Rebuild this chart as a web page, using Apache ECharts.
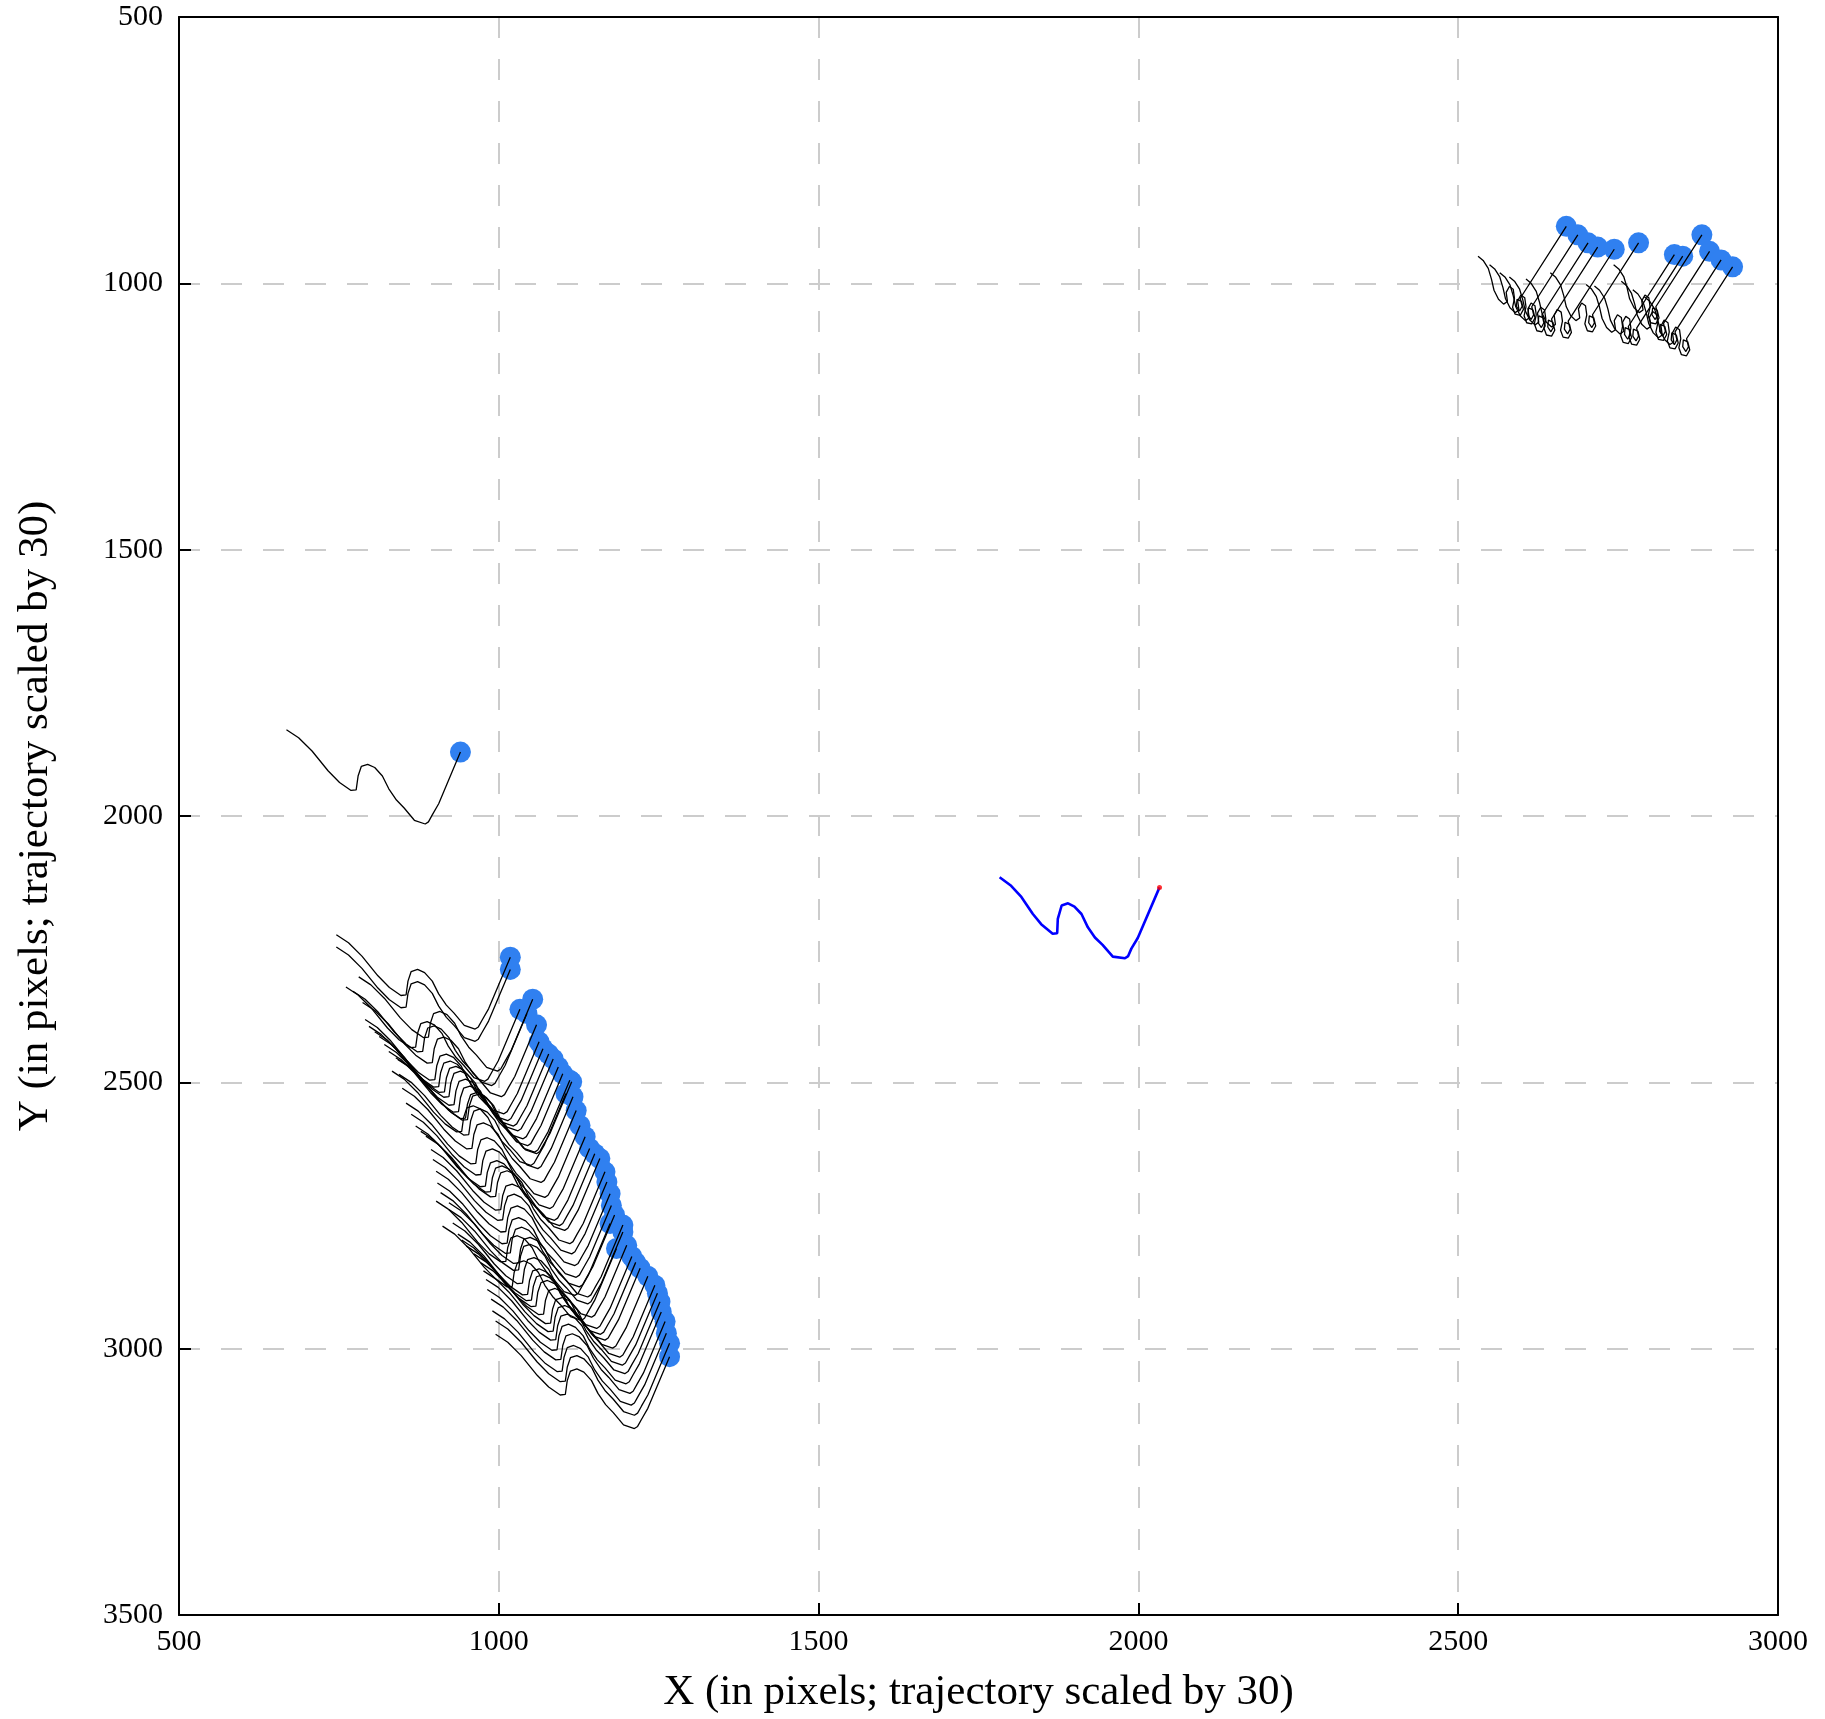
<!DOCTYPE html>
<html><head><meta charset="utf-8">
<script src="https://cdn.jsdelivr.net/npm/echarts@6/dist/echarts.min.js"></script>
<style>html,body{margin:0;padding:0;background:#fff}#c{width:1825px;height:1719px}</style>
</head><body><div id="c"></div>
<script>
// Axis ticks
const xTicks = [500, 1000, 1500, 2000, 2500, 3000];
const yTicks = [500, 1000, 1500, 2000, 2500, 3000, 3500];

// Highlighted (blue) trajectory
const blueX = [1783,1801,1817,1835,1848,1866,1873,1874,1880,1890,1900,1911,1921,1932,1944,1960,1979,1984,1989,1999,2033];
const blueY = [2115,2131,2152,2184,2203,2221,2220,2193,2168,2164,2170,2184,2209,2228,2242,2264,2267,2263,2249,2229,2134];

// Shape of the black trajectories (offsets from their end point), lower-left group
const shapeA_dx = [-272,-253,-232,-207,-189,-171,-163,-160,-155,-145,-134,-122,-112,-100,-88,-72,-55,-50,-44,-34,0];
const shapeA_dy = [-42,-27,-2,35,57,72,71,45,27,23,29,45,69,90,105,128,135,131,118,97,0];

// Shape of the black trajectories, upper-right group
const shapeB_dx = [-138,-130,-122,-117,-113,-106,-98,-92,-94,-89,-83,-81,-84,-80,-72,-67,-70,-77,-78,-73,-69,-72,0];
const shapeB_dy = [56,64,79,99,120,137,146,141,124,113,118,135,152,165,167,156,141,137,150,159,150,135,0];

// End points (blue dots)
const endA_x = [940,1018,1018,1053,1033,1044,1059,1063,1069,1078,1085,1093,1100,1111,1114,1105,1116,1121,1127,1135,1142,1150,1158,1166,1169,1174,1176,1181,1174,1194,1194,1200,1184,1208,1214,1221,1233,1244,1248,1252,1254,1260,1262,1267,1267];
const endA_y = [1880,2265,2288,2344,2363,2371,2392,2424,2437,2447,2456,2471,2484,2496,2499,2521,2527,2553,2581,2602,2624,2634,2643,2668,2687,2709,2731,2749,2765,2768,2781,2806,2812,2827,2838,2849,2864,2881,2896,2912,2931,2949,2971,2990,3015];
const endB_x = [2669,2687,2703,2718,2744,2782,2838,2851,2881,2893,2911,2929];
const endB_y = [893,909,924,932,936,924,946,949,909,940,956,969];

const FONT = '"Liberation Serif","DejaVu Serif",serif';

function traj(ex, ey, dx, dy) {
  return dx.map((v, i) => [ex + v, ey + dy[i]]);
}

const series = [];
const dots = [];
endA_x.forEach((x, i) => {
  series.push({type:'line', data: traj(x, endA_y[i], shapeA_dx, shapeA_dy), showSymbol:false, symbol:'none',
    lineStyle:{color:'#000', width:1.3}, z:3, silent:true});
  dots.push([x, endA_y[i]]);
});
endB_x.forEach((x, i) => {
  series.push({type:'line', data: traj(x, endB_y[i], shapeB_dx, shapeB_dy), showSymbol:false, symbol:'none',
    lineStyle:{color:'#000', width:1.3}, z:3, silent:true});
  dots.push([x, endB_y[i]]);
});
series.push({type:'scatter', data: dots, symbolSize:21, itemStyle:{color:'#3080f0', opacity:1}, z:2, silent:true});
series.push({type:'line', data: blueX.map((v,i)=>[v, blueY[i]]), showSymbol:false, symbol:'none',
  lineStyle:{color:'#0000ff', width:2.6}, z:4, silent:true});
series.push({type:'scatter', data: [[blueX[blueX.length-1], blueY[blueY.length-1]]], symbolSize:5,
  itemStyle:{color:'#ff0000'}, z:5, silent:true});

const plain = v => String(v);
const gridLine = {show:true, lineStyle:{color:'#cccccc', width:2, type:[21,21]}};
const frameAxis = {show:true, onZero:false, lineStyle:{color:'#000', width:2}};

const chart = echarts.init(document.getElementById('c'), null, {renderer:'canvas'});
chart.setOption({
  animation:false,
  backgroundColor:'#fff',
  grid:{left:179, right:47, top:17, bottom:102, show:false},
  xAxis:[{type:'value', min:xTicks[0], max:xTicks[xTicks.length-1], interval:500, position:'bottom',
    name:'X (in pixels; trajectory scaled by 30)', nameLocation:'middle', nameGap:56,
    nameTextStyle:{fontFamily:FONT, fontSize:43, color:'#000'},
    axisLine:frameAxis,
    axisTick:{show:true, inside:true, length:12, lineStyle:{color:'#000', width:2}},
    axisLabel:{fontFamily:FONT, fontSize:30, color:'#000', margin:12, formatter:plain},
    splitLine:gridLine, z:0},
   {type:'value', min:xTicks[0], max:xTicks[xTicks.length-1], interval:500, position:'top',
    axisLine:frameAxis, axisTick:{show:false}, axisLabel:{show:false}, splitLine:{show:false}, z:10}],
  yAxis:[{type:'value', inverse:true, min:yTicks[0], max:yTicks[yTicks.length-1], interval:500, position:'left',
    name:'Y (in pixels; trajectory scaled by 30)', nameLocation:'middle', nameGap:122, nameRotate:90,
    nameTextStyle:{fontFamily:FONT, fontSize:43, color:'#000'},
    axisLine:frameAxis,
    axisTick:{show:true, inside:true, length:12, lineStyle:{color:'#000', width:2}},
    axisLabel:{fontFamily:FONT, fontSize:30, color:'#000', margin:16, formatter:plain},
    splitLine:gridLine, z:0},
   {type:'value', inverse:true, min:yTicks[0], max:yTicks[yTicks.length-1], interval:500, position:'right',
    axisLine:frameAxis, axisTick:{show:false}, axisLabel:{show:false}, splitLine:{show:false}, z:10}],
  series: series
});
</script></body></html>
